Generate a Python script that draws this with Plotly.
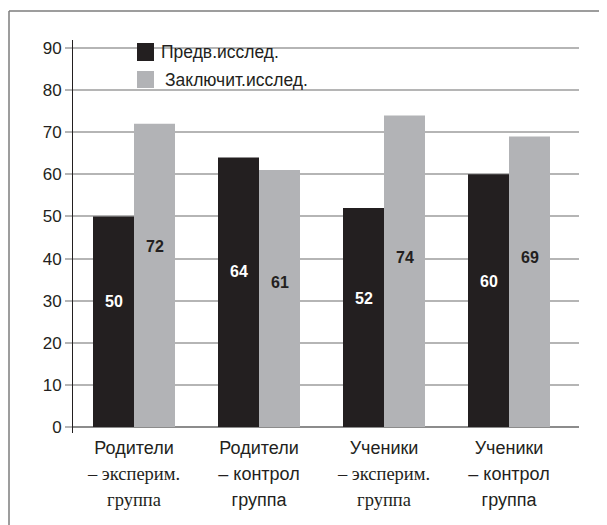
import plotly.graph_objects as go

# ---- data ----
categories_line1 = ["Родители", "Родители", "Ученики", "Ученики"]
categories_line2 = ["– эксперим.", "– контрол", "– эксперим.", "– контрол"]
categories_line3 = ["группа", "группа", "группа", "группа"]
series_names = ["Предв.исслед.", "Заключит.исслед."]
pre_values = [50, 64, 52, 60]
post_values = [72, 61, 74, 69]
y_ticks = [0, 10, 20, 30, 40, 50, 60, 70, 80, 90]

# ---- style ----
OFF = 8  # browser body margin
W, H = 607 - OFF, 525 - OFF
L, R, T, B = 73 - OFF, 28, 40 - OFF, 92
PW, PH = W - L - R, H - T - B
BLACK = "#231f20"
GREY = "#b2b3b6"
GRID = "#b5b5b5"
SANS = "Liberation Sans, Arial, sans-serif"
SERIF = "Liberation Serif, Times New Roman, serif"
serif_lower = [True, False, True, False]
label_shift_px = [[20, 21, 19, 19], [29, 16, 14, 24]]
BARGAP = 0.344
half = (1 - BARGAP) / 4


def px_x(px):  # page pixel -> paper
    return (px - OFF - L) / PW


def px_y(py):
    return (H - B - (py - OFF)) / PH


xs = list(range(len(pre_values)))


def span(txt, fam, size):
    return f"<span style='font-family:{fam};font-size:{size}px'>{txt}</span>"


ticktext = []
for i in xs:
    fam2 = SERIF if serif_lower[i] else SANS
    size2 = 18.5 if serif_lower[i] else 18
    t = (span(categories_line1[i], SANS, 18) + "<br>" + span(categories_line2[i], fam2, size2)
         + "<br>" + span(categories_line3[i], fam2, size2))
    ticktext.append(t)

fig = go.Figure()
fig.add_trace(go.Bar(x=xs, y=pre_values, name=series_names[0], marker=dict(color=BLACK, line=dict(width=0))))
fig.add_trace(go.Bar(x=xs, y=post_values, name=series_names[1], marker=dict(color=GREY, line=dict(width=0))))

annotations = []
for s, (vals, col, off) in enumerate([(pre_values, "white", -half), (post_values, BLACK, half)]):
    for i, v in enumerate(vals):
        annotations.append(dict(x=i + off, y=v / 2, xref="x", yref="y", text=f"<b>{v}</b>",
                                showarrow=False, yshift=label_shift_px[s][i],
                                font=dict(family=SANS, size=16, color=col)))

# custom legend
leg = [(series_names[0], BLACK, 43, 61, 159), (series_names[1], GREY, 71, 88, 163)]
shapes = []
for name, col, y0, y1, tx in leg:
    shapes.append(dict(type="rect", xref="paper", yref="paper", x0=px_x(137), x1=px_x(154),
                       y0=px_y(y1), y1=px_y(y0), fillcolor=col, line=dict(width=0)))
    annotations.append(dict(x=px_x(tx), y=px_y((y0 + y1) / 2), xref="paper", yref="paper",
                            text=name, showarrow=False, xanchor="left", yanchor="middle",
                            font=dict(family=SANS, size=17.5, color="#231f20")))

# frame (left & top border)
shapes.append(dict(type="line", xref="paper", yref="paper", x0=px_x(9), x1=px_x(9),
                   y0=px_y(525), y1=px_y(11), line=dict(color="#7d7d7d", width=1.5)))
shapes.append(dict(type="line", xref="paper", yref="paper", x0=px_x(9), x1=px_x(607),
                   y0=px_y(11), y1=px_y(11), line=dict(color="#7d7d7d", width=1.5)))

ppu = (427 - 48) / 90.0
fig.update_layout(
    width=W, height=H,
    margin=dict(l=L, r=R, t=T, b=B, pad=0, autoexpand=False),
    paper_bgcolor="white", plot_bgcolor="white",
    barmode="group", bargap=BARGAP, bargroupgap=0,
    showlegend=False,
    font=dict(family=SANS, size=18, color="#231f20"),
    xaxis=dict(tickmode="array", tickvals=xs, ticktext=ticktext, range=[-61 / 125, (PW - 61) / 125],
               showgrid=False, zeroline=False, showline=False, ticks="",
               tickfont=dict(family=SANS, size=20, color="#231f20")),
    yaxis=dict(range=[-6 / ppu, 90 + 8 / ppu], tickmode="array", tickvals=y_ticks,
               showgrid=True, gridcolor=GRID, gridwidth=1.5,
               zeroline=True, zerolinecolor="#8c8c8c", zerolinewidth=2,
               showline=True, linecolor="#231f20", linewidth=1,
               ticks="outside", ticklen=7, tickcolor=GRID, tickwidth=1.5,
               tickfont=dict(family=SANS, size=17, color="#231f20")),
    annotations=annotations,
    shapes=shapes,
)

fig.write_html("out.html")
